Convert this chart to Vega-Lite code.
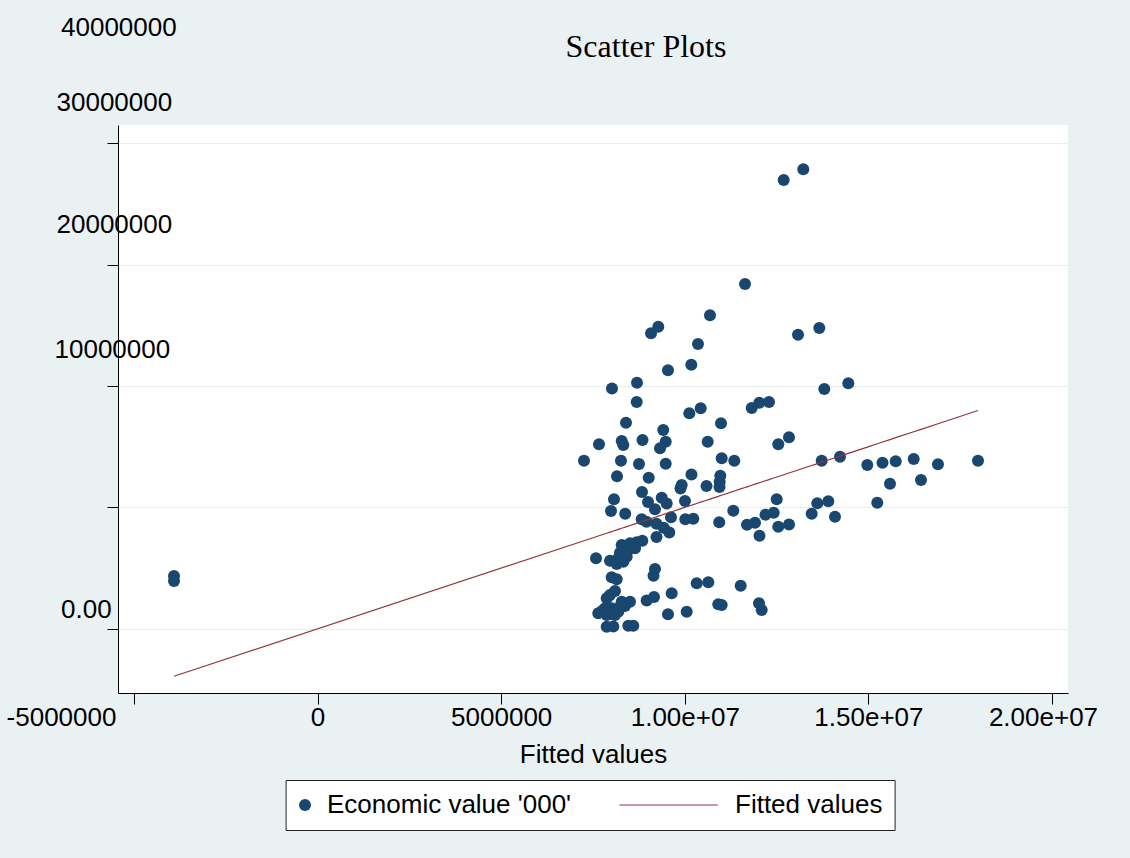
{
  "$schema": "https://vega.github.io/schema/vega-lite/v6.json",
  "width": 950,
  "height": 568,
  "autosize": {"type": "none"},
  "padding": {"left": 118, "top": 125, "right": 62, "bottom": 165},
  "background": "#EAF1F3",
  "config": {
    "view": {"fill": "white", "stroke": null},
    "font": "Liberation Sans"
  },
  "title": {
    "text": "Scatter Plots",
    "font": "Liberation Serif",
    "fontSize": 32,
    "fontWeight": "normal",
    "color": "black",
    "anchor": "middle",
    "frame": "group",
    "dx": 53,
    "offset": -50
  },
  "data": {"values": [
    {"fitted": 12693000, "econ": 36969000},
    {"fitted": 13227000, "econ": 37850000},
    {"fitted": 11640000, "econ": 28402000},
    {"fitted": 10686000, "econ": 25824000},
    {"fitted": 9278000, "econ": 24885000},
    {"fitted": 9080000, "econ": 24341000},
    {"fitted": 13083000, "econ": 24226000},
    {"fitted": 13663000, "econ": 24778000},
    {"fitted": 10359000, "econ": 23460000},
    {"fitted": 10177000, "econ": 21755000},
    {"fitted": 9542000, "econ": 21293000},
    {"fitted": 8698000, "econ": 20272000},
    {"fitted": 8017000, "econ": 19794000},
    {"fitted": 13799000, "econ": 19753000},
    {"fitted": 14453000, "econ": 20222000},
    {"fitted": 8690000, "econ": 18682000},
    {"fitted": 8399000, "econ": 16977000},
    {"fitted": 10123000, "econ": 17751000},
    {"fitted": 10433000, "econ": 18163000},
    {"fitted": 11822000, "econ": 18188000},
    {"fitted": 12029000, "econ": 18624000},
    {"fitted": 12293000, "econ": 18682000},
    {"fitted": 10986000, "econ": 16928000},
    {"fitted": 9414000, "econ": 16376000},
    {"fitted": 7663000, "econ": 15198000},
    {"fitted": 8282000, "econ": 15470000},
    {"fitted": 8325000, "econ": 15140000},
    {"fitted": 8848000, "econ": 15552000},
    {"fitted": 9480000, "econ": 15412000},
    {"fitted": 9325000, "econ": 14868000},
    {"fitted": 10624000, "econ": 15412000},
    {"fitted": 12546000, "econ": 15198000},
    {"fitted": 12838000, "econ": 15774000},
    {"fitted": 7255000, "econ": 13847000},
    {"fitted": 8262000, "econ": 13847000},
    {"fitted": 8753000, "econ": 13575000},
    {"fitted": 9480000, "econ": 13600000},
    {"fitted": 11005000, "econ": 14044000},
    {"fitted": 11348000, "econ": 13847000},
    {"fitted": 13728000, "econ": 13847000},
    {"fitted": 14227000, "econ": 14176000},
    {"fitted": 14970000, "econ": 13493000},
    {"fitted": 15384000, "econ": 13682000},
    {"fitted": 15744000, "econ": 13797000},
    {"fitted": 16234000, "econ": 13987000},
    {"fitted": 16895000, "econ": 13550000},
    {"fitted": 17985000, "econ": 13847000},
    {"fitted": 15588000, "econ": 11952000},
    {"fitted": 16433000, "econ": 12257000},
    {"fitted": 15242000, "econ": 10387000},
    {"fitted": 8154000, "econ": 12562000},
    {"fitted": 9017000, "econ": 12446000},
    {"fitted": 10182000, "econ": 12710000},
    {"fitted": 9916000, "econ": 11845000},
    {"fitted": 9883000, "econ": 11557000},
    {"fitted": 10591000, "econ": 11763000},
    {"fitted": 10967000, "econ": 12603000},
    {"fitted": 10950000, "econ": 12117000},
    {"fitted": 10945000, "econ": 11680000},
    {"fitted": 8834000, "econ": 11269000},
    {"fitted": 8072000, "econ": 10667000},
    {"fitted": 8998000, "econ": 10445000},
    {"fitted": 9371000, "econ": 10791000},
    {"fitted": 9507000, "econ": 10321000},
    {"fitted": 10005000, "econ": 10527000},
    {"fitted": 9188000, "econ": 9852000},
    {"fitted": 7990000, "econ": 9703000},
    {"fitted": 8377000, "econ": 9481000},
    {"fitted": 9624000, "econ": 9185000},
    {"fitted": 8826000, "econ": 9020000},
    {"fitted": 8957000, "econ": 8822000},
    {"fitted": 9229000, "econ": 8657000},
    {"fitted": 9425000, "econ": 8320000},
    {"fitted": 9578000, "econ": 7932000},
    {"fitted": 10014000, "econ": 9028000},
    {"fitted": 10231000, "econ": 9069000},
    {"fitted": 9229000, "econ": 7562000},
    {"fitted": 10937000, "econ": 8773000},
    {"fitted": 11321000, "econ": 9720000},
    {"fitted": 11694000, "econ": 8575000},
    {"fitted": 11912000, "econ": 8731000},
    {"fitted": 12034000, "econ": 7669000},
    {"fitted": 12198000, "econ": 9399000},
    {"fitted": 12421000, "econ": 9563000},
    {"fitted": 12503000, "econ": 10667000},
    {"fitted": 12546000, "econ": 8410000},
    {"fitted": 12838000, "econ": 8591000},
    {"fitted": 13456000, "econ": 9481000},
    {"fitted": 13608000, "econ": 10338000},
    {"fitted": 13908000, "econ": 10502000},
    {"fitted": 14090000, "econ": 9234000},
    {"fitted": 8282000, "econ": 6903000},
    {"fitted": 8508000, "econ": 7043000},
    {"fitted": 8690000, "econ": 7125000},
    {"fitted": 8843000, "econ": 7257000},
    {"fitted": 8644000, "econ": 6631000},
    {"fitted": 8445000, "econ": 6433000},
    {"fitted": 8235000, "econ": 6269000},
    {"fitted": 8418000, "econ": 5939000},
    {"fitted": 8189000, "econ": 5807000},
    {"fitted": 7963000, "econ": 5610000},
    {"fitted": 8145000, "econ": 5338000},
    {"fitted": 8325000, "econ": 5527000},
    {"fitted": 7582000, "econ": 5807000},
    {"fitted": 9188000, "econ": 4926000},
    {"fitted": 9148000, "econ": 4366000},
    {"fitted": 8009000, "econ": 4242000},
    {"fitted": 8145000, "econ": 4077000},
    {"fitted": 8099000, "econ": 3114000},
    {"fitted": 7963000, "econ": 2784000},
    {"fitted": 7873000, "econ": 2512000},
    {"fitted": 8282000, "econ": 2232000},
    {"fitted": 8508000, "econ": 2232000},
    {"fitted": 8962000, "econ": 2331000},
    {"fitted": 9161000, "econ": 2619000},
    {"fitted": 9643000, "econ": 2924000},
    {"fitted": 10324000, "econ": 3748000},
    {"fitted": 10640000, "econ": 3830000},
    {"fitted": 11522000, "econ": 3550000},
    {"fitted": 10912000, "econ": 2018000},
    {"fitted": 11005000, "econ": 1960000},
    {"fitted": 12021000, "econ": 2100000},
    {"fitted": 12094000, "econ": 1549000},
    {"fitted": 9542000, "econ": 1203000},
    {"fitted": 10052000, "econ": 1409000},
    {"fitted": 7644000, "econ": 1277000},
    {"fitted": 7827000, "econ": 1689000},
    {"fitted": 8009000, "econ": 1689000},
    {"fitted": 8189000, "econ": 1409000},
    {"fitted": 7873000, "econ": 1137000},
    {"fitted": 8099000, "econ": 1137000},
    {"fitted": 8235000, "econ": 1820000},
    {"fitted": 7746000, "econ": 1466000},
    {"fitted": 8371000, "econ": 1878000},
    {"fitted": 7873000, "econ": 173000},
    {"fitted": 8053000, "econ": 189000},
    {"fitted": 8461000, "econ": 255000},
    {"fitted": 8597000, "econ": 255000},
    {"fitted": -3911000, "econ": 4349000},
    {"fitted": -3911000, "econ": 3937000}
  ]},
  "layer": [
    {
      "mark": {"type": "point", "filled": true, "opacity": 1, "size": 144, "strokeWidth": 0},
      "encoding": {
        "x": {
          "field": "fitted", "type": "quantitative",
          "scale": {"domain": [-5436000, 20436000], "nice": false, "zero": false},
          "axis": {
            "values": [-5000000, 0, 5000000, 10000000, 15000000, 20000000],
            "labelExpr": "datum.value == 0 ? '0' : datum.value < 0 ? '-' + format(-datum.value, 'd') : datum.value < 10000000 ? format(datum.value, 'd') : format(datum.value / 10000000, '.2f') + 'e+07'",
            "title": "Fitted values",
            "titleFont": "Liberation Sans", "titleFontSize": 26, "titleFontWeight": "normal", "titleColor": "black", "titlePadding": 11,
            "labelFont": "Liberation Sans", "labelFontSize": 26, "labelColor": "black",
            "labelFlush": false, "labelOverlap": false, "labelPadding": 0, "labelBaseline": "top",
            "labelOffset": {"condition": [{"test": "datum.value == -5000000", "value": -73}, {"test": "datum.value == 20000000", "value": -9}], "value": 0},
            "tickSize": 11, "tickColor": "black", "tickWidth": 1,
            "domainColor": "black", "domainWidth": 1,
            "grid": false
          }
        },
        "y": {
          "field": "econ", "type": "quantitative",
          "scale": {"domain": [-5288000, 41500000], "nice": false, "zero": false},
          "axis": {
            "values": [0, 10000000, 20000000, 30000000, 40000000],
            "labelExpr": "datum.value == 0 ? '0.00' : format(datum.value, 'd')",
            "title": null,
            "labelFont": "Liberation Sans", "labelFontSize": 26, "labelColor": "black",
            "labelAlign": "left", "labelBaseline": "middle",
            "labelOverlap": false, "labelFlush": false,
            "labelPadding": {"condition": [{"test": "datum.value == 0 || datum.value == 40000000", "value": 46.5}, {"test": "datum.value == 10000000", "value": 53}], "value": 51},
            "labelOffset": {"condition": [{"test": "datum.value == 0", "value": -19.2}, {"test": "datum.value == 10000000", "value": -158.2}, {"test": "datum.value == 20000000", "value": -161.4}, {"test": "datum.value == 30000000", "value": -161.8}], "value": -116},
            "tickSize": 11, "tickColor": "black", "tickWidth": 1,
            "domainColor": "black", "domainWidth": 1,
            "grid": true, "gridColor": "#E6EEF0", "gridWidth": 1
          }
        },
        "color": {
          "datum": "Economic value '000'", "type": "nominal",
          "scale": {"domain": ["Economic value '000'", "Fitted values"], "range": ["#1A476F", "#90353B"]},
          "legend": {
            "orient": "none", "legendX": 167.6, "legendY": 655, "direction": "horizontal",
            "title": null, "fillColor": "white", "strokeColor": "#222222", "padding": 12, "cornerRadius": 0,
            "labelFont": "Liberation Sans", "labelFontSize": 26, "labelColor": "black", "labelOffset": 9, "labelLimit": 400,
            "symbolSize": 144, "symbolStrokeWidth": 0, "symbolOffset": -5.6, "symbolOpacity": 1,
            "columnPadding": 47, "rowPadding": 0
          }
        },
        "shape": {
          "datum": "Economic value '000'", "type": "nominal",
          "scale": {"domain": ["Economic value '000'", "Fitted values"], "range": ["circle", "M-15.6,-0.09L0.8,-0.09L0.8,0.09L-15.6,0.09Z"]},
          "legend": {
            "orient": "none", "legendX": 167.6, "legendY": 655, "direction": "horizontal",
            "title": null, "fillColor": "white", "strokeColor": "#222222", "padding": 12, "cornerRadius": 0,
            "labelFont": "Liberation Sans", "labelFontSize": 26, "labelColor": "black", "labelOffset": 9, "labelLimit": 400,
            "symbolSize": 144, "symbolStrokeWidth": 0, "symbolOffset": -5.6, "symbolOpacity": 1,
            "columnPadding": 47, "rowPadding": 0
          }
        }
      }
    },
    {
      "mark": {"type": "line", "color": "#90353B", "strokeWidth": 1.2},
      "encoding": {
        "x": {
          "field": "fitted", "type": "quantitative",
          "scale": {"domain": [-5436000, 20436000], "nice": false, "zero": false},
          "axis": {
            "values": [-5000000, 0, 5000000, 10000000, 15000000, 20000000],
            "labelExpr": "datum.value == 0 ? '0' : datum.value < 0 ? '-' + format(-datum.value, 'd') : datum.value < 10000000 ? format(datum.value, 'd') : format(datum.value / 10000000, '.2f') + 'e+07'",
            "title": "Fitted values",
            "titleFont": "Liberation Sans", "titleFontSize": 26, "titleFontWeight": "normal", "titleColor": "black", "titlePadding": 11,
            "labelFont": "Liberation Sans", "labelFontSize": 26, "labelColor": "black",
            "labelFlush": false, "labelOverlap": false, "labelPadding": 0, "labelBaseline": "top",
            "labelOffset": {"condition": [{"test": "datum.value == -5000000", "value": -73}, {"test": "datum.value == 20000000", "value": -9}], "value": 0},
            "tickSize": 11, "tickColor": "black", "tickWidth": 1,
            "domainColor": "black", "domainWidth": 1,
            "grid": false
          }
        },
        "y": {
          "field": "fitted", "type": "quantitative",
          "scale": {"domain": [-5288000, 41500000], "nice": false, "zero": false},
          "axis": {
            "values": [0, 10000000, 20000000, 30000000, 40000000],
            "labelExpr": "datum.value == 0 ? '0.00' : format(datum.value, 'd')",
            "title": null,
            "labelFont": "Liberation Sans", "labelFontSize": 26, "labelColor": "black",
            "labelAlign": "left", "labelBaseline": "middle",
            "labelOverlap": false, "labelFlush": false,
            "labelPadding": {"condition": [{"test": "datum.value == 0 || datum.value == 40000000", "value": 46.5}, {"test": "datum.value == 10000000", "value": 53}], "value": 51},
            "labelOffset": {"condition": [{"test": "datum.value == 0", "value": -19.2}, {"test": "datum.value == 10000000", "value": -158.2}, {"test": "datum.value == 20000000", "value": -161.4}, {"test": "datum.value == 30000000", "value": -161.8}], "value": -116},
            "tickSize": 11, "tickColor": "black", "tickWidth": 1,
            "domainColor": "black", "domainWidth": 1,
            "grid": true, "gridColor": "#E6EEF0", "gridWidth": 1
          }
        }
      }
    }
  ]
}
